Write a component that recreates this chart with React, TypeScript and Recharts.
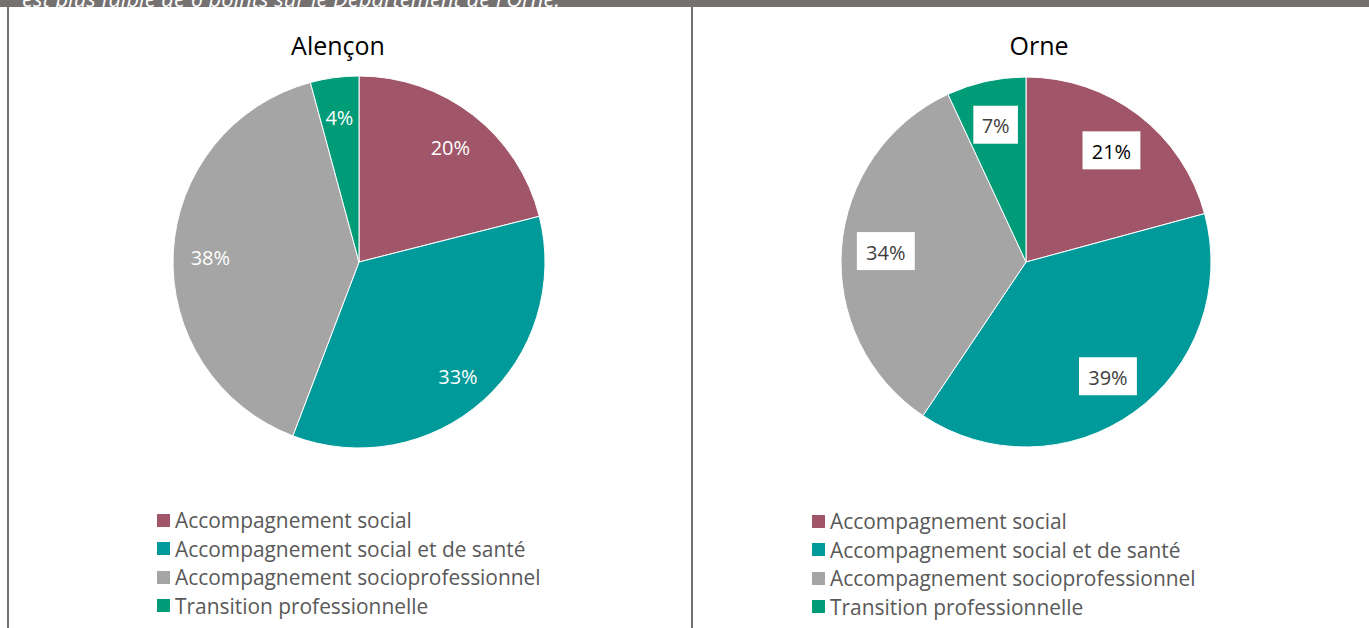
import React from 'react';
import { PieChart, Pie, Cell, Legend } from 'recharts';

const categories = [
  'Accompagnement social',
  'Accompagnement social et de santé',
  'Accompagnement socioprofessionnel',
  'Transition professionnelle',
];
const colors = ['#A05569', '#009A9A', '#A5A5A5', '#009B77'];
const alenconValues = [20, 33, 38, 4];
const orneValues = [21, 39, 34, 7];

const FONT = '"Open Sans", Calibri, sans-serif';
const RADIAN = Math.PI / 180;

const toRows = (vals: number[]) => categories.map((name, i) => ({ name, value: vals[i] }));

// white text straight on the slice (Alençon)
const plainLabel = (p: any) => {
  const r = p.outerRadius * 0.8;
  const x = p.cx + r * Math.cos(-p.midAngle * RADIAN);
  const y = p.cy + r * Math.sin(-p.midAngle * RADIAN);
  return (
    <text x={x} y={y + 3} fill="#fff" fontSize={20} fontFamily={FONT} textAnchor="middle" dominantBaseline="central">
      {p.value}%
    </text>
  );
};

// dark text in a white box (Orne)
const boxedLabel = (p: any) => {
  const r = p.outerRadius * 0.76;
  const x = p.cx + r * Math.cos(-p.midAngle * RADIAN);
  const y = p.cy + r * Math.sin(-p.midAngle * RADIAN);
  const txt = `${p.value}%`;
  const w = txt.length * 13.3 + 18;
  const h = 38;
  return (
    <g>
      <rect x={x - w / 2} y={y - h / 2} width={w} height={h} fill="#fff" />
      <text x={x} y={y + 1} fill={p.index === 0 ? '#000' : '#404040'} fontSize={20} fontFamily={FONT} textAnchor="middle" dominantBaseline="central">
        {txt}
      </text>
    </g>
  );
};

const legendContent = () => (
  <div>
    {categories.map((c, i) => (
      <div key={c} style={{ display: 'flex', alignItems: 'center', height: 28.5 }}>
        <span style={{ width: 13, height: 13, background: colors[i], marginRight: 5, display: 'inline-block', flexShrink: 0 }} />
        <span style={{ fontFamily: FONT, fontSize: 20.9, color: '#595959', whiteSpace: 'nowrap' }}>{c}</span>
      </div>
    ))}
  </div>
);

type PanelProps = {
  title: string;
  values: number[];
  left: number;
  width: number;
  cx: number;
  r: number;
  titleX: number;
  legendX: number;
  legendY: number;
  boxed: boolean;
};

const Panel = ({ title, values, left, width, cx, r, titleX, legendX, legendY, boxed }: PanelProps) => (
  <div style={{ position: 'absolute', left, top: 7, width, height: 621 }}>
    <div
      style={{
        position: 'absolute',
        left: titleX - 150,
        width: 300,
        top: 21,
        textAlign: 'center',
        fontFamily: FONT,
        fontSize: 25,
        color: '#000',
      }}
    >
      {title}
    </div>
    <PieChart width={width} height={621}>
      <Pie
        data={toRows(values)}
        dataKey="value"
        nameKey="name"
        cx={cx}
        cy={250}
        outerRadius={r}
        startAngle={90}
        endAngle={-270}
        stroke="#fff"
        strokeWidth={1}
        labelLine={false}
        label={boxed ? boxedLabel : plainLabel}
        isAnimationActive={false}
      >
        {values.map((_, i) => (
          <Cell key={i} fill={colors[i]} />
        ))}
      </Pie>
      <Legend
        content={legendContent}
        wrapperStyle={{ position: 'absolute', left: legendX, top: legendY, width: 470 }}
      />
    </PieChart>
  </div>
);

export default function App() {
  return (
    <div style={{ position: 'absolute', left: 0, top: 0, width: 1369, height: 628, background: '#fff', overflow: 'hidden' }}>
      <div style={{ position: 'absolute', left: 0, top: 0, width: 1369, height: 7, background: '#767171', overflow: 'hidden' }}>
        <div
          style={{
            position: 'absolute',
            left: 22,
            top: -17,
            fontFamily: FONT,
            fontStyle: 'italic',
            fontSize: 22,
            color: '#fff',
            whiteSpace: 'nowrap',
          }}
        >
          est plus faible de 6 points sur le Département de l'Orne.
        </div>
      </div>
      <div style={{ position: 'absolute', left: 7, top: 7, width: 2, height: 621, background: '#767171' }} />
      <div style={{ position: 'absolute', left: 691, top: 7, width: 2, height: 621, background: '#767171' }} />
      <Panel title="Alençon" values={alenconValues} left={9} width={682} cx={345} r={186} titleX={329} legendX={148} legendY={499} boxed={false} />
      <Panel title="Orne" values={orneValues} left={693} width={676} cx={328} r={185} titleX={346} legendX={119} legendY={500} boxed={true} />
    </div>
  );
}
